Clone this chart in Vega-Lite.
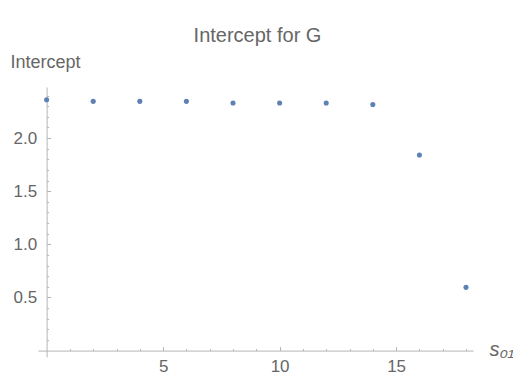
{
  "$schema": "https://vega.github.io/schema/vega-lite/v6.json",
  "autosize": "none",
  "width": 435,
  "height": 270,
  "padding": {"left": 38, "top": 87, "right": 40, "bottom": 30},
  "background": "white",
  "config": {"view": {"stroke": null}, "font": "Liberation Sans"},
  "title": {
    "text": "Intercept for G",
    "frame": "group",
    "anchor": "middle",
    "dx": 2,
    "offset": 7,
    "fontSize": 20,
    "fontWeight": "normal",
    "color": "#666666",
    "font": "Liberation Sans"
  },
  "data": {
    "values": [
      {"s01": 0, "intercept": 2.36},
      {"s01": 2, "intercept": 2.345},
      {"s01": 4, "intercept": 2.345},
      {"s01": 6, "intercept": 2.345},
      {"s01": 8, "intercept": 2.33},
      {"s01": 10, "intercept": 2.33},
      {"s01": 12, "intercept": 2.33},
      {"s01": 14, "intercept": 2.315},
      {"s01": 16, "intercept": 1.84},
      {"s01": 18, "intercept": 0.595}
    ]
  },
  "mark": {"type": "point", "filled": true, "size": 26, "opacity": 1, "color": "#5E81B5"},
  "encoding": {
    "x": {
      "field": "s01",
      "type": "quantitative",
      "scale": {"domain": [-0.37, 18.3], "nice": false, "zero": false},
      "axis": {
        "offset": -6.4,
        "grid": false,
        "values": [1,2,3,4,5,6,7,8,9,10,11,12,13,14,15,16,17,18],
        "labelExpr": "datum.value % 5 === 0 ? format(datum.value, 'd') : ''",
        "tickSize": {"condition": {"test": "datum.value % 5 === 0", "value": -4}, "value": -2},
        "tickColor": "#b5b5b5",
        "domainColor": "#b5b5b5",
        "labelColor": "#666666",
        "labelFontSize": 17,
        "labelPadding": 12,
        "labelFlush": false,
        "labelOverlap": false,
        "title": "s₀₁",
        "titleFontStyle": "italic",
        "titleFontWeight": "normal",
        "titleFontSize": 20,
        "titleColor": "#666666",
        "titleAnchor": "start",
        "titleAlign": "left",
        "titleBaseline": "alphabetic",
        "titleX": 451,
        "titleY": 5
      }
    },
    "y": {
      "field": "intercept",
      "type": "quantitative",
      "scale": {"domain": [-0.06, 2.48], "nice": false, "zero": false},
      "axis": {
        "offset": -8.6,
        "grid": false,
        "values": [0.1,0.2,0.3,0.4,0.5,0.6,0.7,0.8,0.9,1.0,1.1,1.2,1.3,1.4,1.5,1.6,1.7,1.8,1.9,2.0,2.1,2.2,2.3,2.4],
        "labelExpr": "round(datum.value * 10) % 5 === 0 ? format(datum.value, '.1f') : ''",
        "tickSize": {"condition": {"test": "round(datum.value * 10) % 5 === 0", "value": -4}, "value": -2},
        "tickColor": "#b5b5b5",
        "domainColor": "#b5b5b5",
        "labelColor": "#666666",
        "labelFontSize": 17,
        "labelPadding": 14,
        "labelFlush": false,
        "labelOverlap": false,
        "title": "Intercept",
        "titleAngle": 0,
        "titleFontWeight": "normal",
        "titleFontSize": 18,
        "titleColor": "#666666",
        "titleAnchor": "end",
        "titleAlign": "left",
        "titleBaseline": "alphabetic",
        "titleX": -36.6,
        "titleY": -20
      }
    }
  }
}
